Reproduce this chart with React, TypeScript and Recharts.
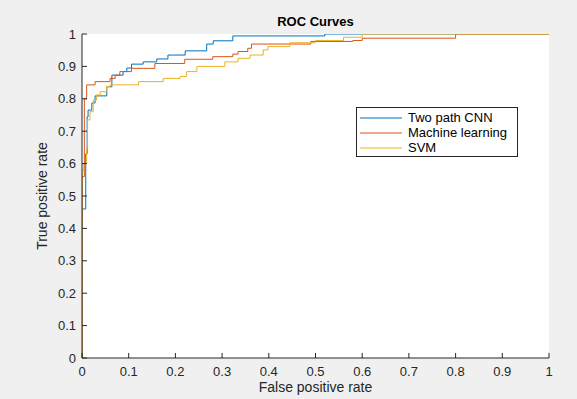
import { LineChart, Line, XAxis, YAxis, CartesianGrid, Legend } from "recharts";

const tickValues = [0, 0.1, 0.2, 0.3, 0.4, 0.5, 0.6, 0.7, 0.8, 0.9, 1];
const tickLabels = ["0", "0.1", "0.2", "0.3", "0.4", "0.5", "0.6", "0.7", "0.8", "0.9", "1"];

// ROC points: fpr where the curve steps up, tpr after the step
const cnnFpr = [0, 0, 0.008, 0.011, 0.013, 0.021, 0.028, 0.053, 0.064, 0.088, 0.096, 0.106, 0.131, 0.16, 0.184, 0.221, 0.267, 0.281, 0.323, 0.52, 1];
const cnnTpr = [0, 0.46, 0.63, 0.744, 0.765, 0.787, 0.809, 0.837, 0.873, 0.884, 0.895, 0.907, 0.914, 0.923, 0.935, 0.948, 0.969, 0.979, 0.994, 1, 1];

const mlFpr = [0, 0, 0.005, 0.01, 0.028, 0.06, 0.071, 0.081, 0.106, 0.156, 0.22, 0.28, 0.323, 0.334, 0.355, 0.363, 0.49, 0.58, 0.6, 0.8, 1];
const mlTpr = [0, 0.56, 0.8, 0.843, 0.853, 0.863, 0.873, 0.884, 0.894, 0.909, 0.922, 0.93, 0.938, 0.946, 0.956, 0.969, 0.977, 0.98, 0.987, 1, 1];

const svmFpr = [0, 0, 0.004, 0.01, 0.012, 0.017, 0.024, 0.031, 0.039, 0.053, 0.06, 0.121, 0.174, 0.21, 0.224, 0.246, 0.306, 0.334, 0.36, 0.388, 0.398, 0.445, 0.5, 0.56, 0.6, 1];
const svmTpr = [0, 0.58, 0.6, 0.65, 0.735, 0.76, 0.796, 0.812, 0.822, 0.838, 0.843, 0.853, 0.863, 0.869, 0.884, 0.9, 0.914, 0.925, 0.935, 0.951, 0.961, 0.973, 0.98, 0.99, 1, 1];

const seriesNames = ["Two path CNN", "Machine learning", "SVM"];
const seriesColors = ["#0072BD", "#D95319", "#EDB120"];

const zip = (fpr: number[], tpr: number[]) => fpr.map((f, i) => ({ fpr: f, tpr: tpr[i] }));
const seriesData = [zip(cnnFpr, cnnTpr), zip(mlFpr, mlTpr), zip(svmFpr, svmTpr)];

const FONT = "'Liberation Sans', Arial, sans-serif";
const INK = "#262626";

const labelFor = (v: number) => tickLabels[tickValues.indexOf(v)] ?? String(v);

const BottomTick = (p: any) => (
  <g>
    <line x1={p.x} x2={p.x} y1={p.y} y2={p.y - 5} stroke={INK} />
    <text x={p.x} y={p.y + 18} textAnchor="middle" fill={INK} fontSize={13} fontFamily={FONT}>
      {labelFor(p.payload.value)}
    </text>
  </g>
);

const TopTick = (p: any) => <line x1={p.x} x2={p.x} y1={p.y} y2={p.y + 5} stroke={INK} />;

const LeftTick = (p: any) => (
  <g>
    <line x1={p.x} x2={p.x + 5} y1={p.y} y2={p.y} stroke={INK} />
    <text x={p.x - 6} y={p.y + 4.5} textAnchor="end" fill={INK} fontSize={13} fontFamily={FONT}>
      {labelFor(p.payload.value)}
    </text>
  </g>
);

const RightTick = (p: any) => <line x1={p.x} x2={p.x - 5} y1={p.y} y2={p.y} stroke={INK} />;

const renderLegend = (props: any) => {
  const items = [...(props.payload || [])].sort(
    (a: any, b: any) => seriesNames.indexOf(a.value) - seriesNames.indexOf(b.value)
  );
  return (
    <div
      style={{
        width: 162,
        height: 50,
        boxSizing: "border-box",
        border: `1px solid ${INK}`,
        background: "#fff",
        padding: "2px 0 0 3px",
        fontFamily: FONT,
        fontSize: 13,
        color: "#000",
      }}
    >
      {items.map((it: any) => (
        <div key={it.value} style={{ display: "flex", alignItems: "center", height: 15 }}>
          <svg width={42} height={10} style={{ marginRight: 6 }}>
            <line x1={0} x2={42} y1={5} y2={5} stroke={it.color} strokeWidth={1} />
          </svg>
          <span>{it.value}</span>
        </div>
      ))}
    </div>
  );
};

export default function App() {
  return (
    <div
      style={{
        position: "absolute",
        left: 0,
        top: 0,
        width: 577,
        height: 399,
        background: "#f0f0f0",
        fontFamily: FONT,
      }}
    >
      <LineChart width={577} height={399} margin={{ top: 34, right: 28, bottom: 11, left: 52 }}>
        <CartesianGrid fill="#fff" stroke="none" />
        <XAxis
          dataKey="fpr"
          type="number"
          domain={[0, 1]}
          ticks={tickValues}
          interval={0}
          allowDataOverflow
          height={30}
          tickSize={0}
          tickMargin={0}
          tick={BottomTick}
          axisLine={{ stroke: INK }}
        />
        <XAxis
          xAxisId="top"
          orientation="top"
          type="number"
          domain={[0, 1]}
          ticks={tickValues}
          interval={0}
          allowDataOverflow
          height={0}
          tickSize={0}
          tickMargin={0}
          tick={TopTick}
          axisLine={{ stroke: INK }}
        />
        <YAxis
          type="number"
          domain={[0, 1]}
          ticks={tickValues}
          interval={0}
          allowDataOverflow
          width={30}
          tickSize={0}
          tickMargin={0}
          tick={LeftTick}
          axisLine={{ stroke: INK }}
        />
        <YAxis
          yAxisId="right"
          orientation="right"
          type="number"
          domain={[0, 1]}
          ticks={tickValues}
          interval={0}
          allowDataOverflow
          width={0}
          tickSize={0}
          tickMargin={0}
          tick={RightTick}
          axisLine={{ stroke: INK }}
        />
        {seriesData.map((d, i) => (
          <Line
            key={seriesNames[i]}
            data={d}
            dataKey="tpr"
            name={seriesNames[i]}
            type="stepAfter"
            stroke={seriesColors[i]}
            strokeWidth={1}
            dot={false}
            activeDot={false}
            isAnimationActive={false}
          />
        ))}
        <Legend
          layout="vertical"
          align="center"
          verticalAlign="middle"
          content={renderLegend}
          wrapperStyle={{ left: 356, top: 107, width: 162 }}
        />
      </LineChart>
      <div
        style={{
          position: "absolute",
          left: 82,
          width: 467,
          top: 14,
          lineHeight: "15px",
          textAlign: "center",
          fontWeight: "bold",
          fontSize: 13,
          color: "#000",
        }}
      >
        ROC Curves
      </div>
      <div
        style={{
          position: "absolute",
          left: 82,
          width: 467,
          top: 380,
          lineHeight: "14px",
          textAlign: "center",
          fontSize: 14,
          color: INK,
        }}
      >
        False positive rate
      </div>
      <div
        style={{
          position: "absolute",
          left: 42 - 100,
          top: 196 - 9,
          width: 200,
          height: 18,
          lineHeight: "18px",
          textAlign: "center",
          fontSize: 14,
          color: INK,
          transform: "rotate(-90deg)",
        }}
      >
        True positive rate
      </div>
    </div>
  );
}
